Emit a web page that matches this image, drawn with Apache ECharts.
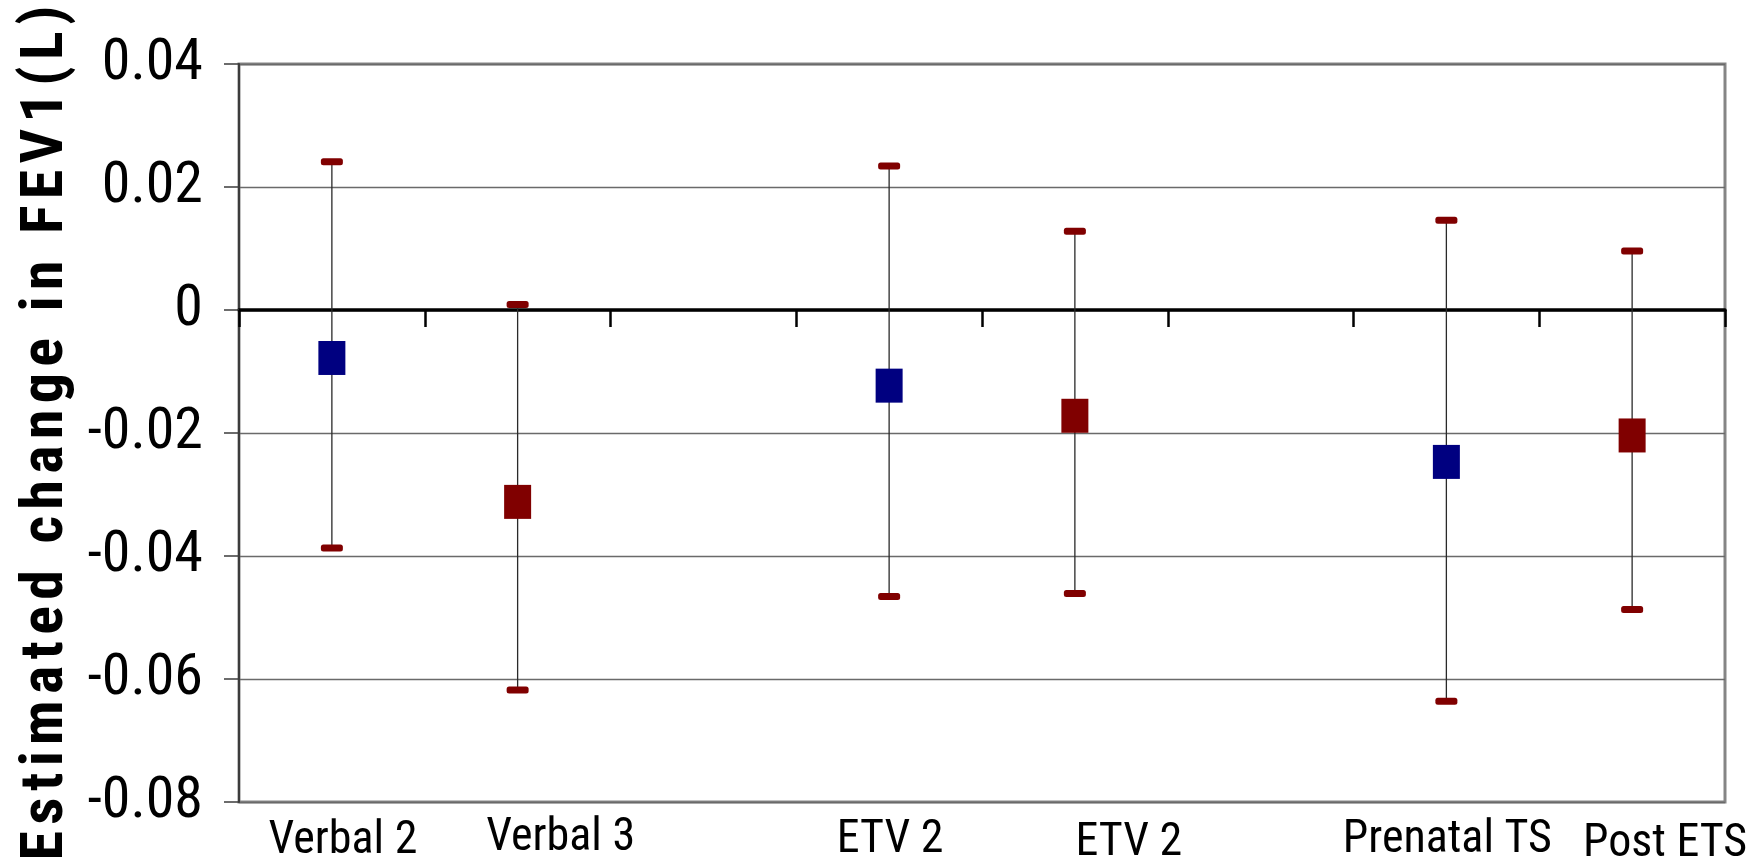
<!DOCTYPE html>
<html>
<head>
<meta charset="utf-8">
<title>Estimated change in FEV1</title>
<script src="https://cdn.jsdelivr.net/npm/echarts@6/dist/echarts.min.js"></script>
<style>
  html, body { margin: 0; padding: 0; background: #ffffff; }
  #chart { width: 1762px; height: 867px; }
</style>
</head>
<body>
<div id="chart"></div>
<script>
// Exposure categories (empty slots separate the three groups)
const categories = ['Verbal 2', 'Verbal 3', '', 'ETV 2', 'ETV 2', '', 'Prenatal TS', 'Post ETS'];

// Point estimates, split by marker colour
const blueEstimates = [-0.0078, null, null, -0.0123, null, null, -0.0247, null];
const redEstimates  = [null, -0.0312, null, null, -0.0172, null, null, -0.0204];

// Confidence interval bounds
const lowerBounds = [-0.0387, -0.0618, null, -0.0466, -0.0461, null, -0.0636, -0.0487];
const upperBounds = [0.0241, 0.0009, null, 0.0234, 0.0128, null, 0.0146, 0.0096];

// Value axis ticks
const yTicks = [-0.08, -0.06, -0.04, -0.02, 0, 0.02, 0.04];

const yTitle = 'Estimated change in FEV1(L)';

const NARROW = '"Roboto Condensed", "DejaVu Sans Condensed", sans-serif';

// letter-spaced axis title
const spacedTitle = yTitle.split(' ')
  .map(w => w.split('').join('\u200A'))
  .join('\u200A \u200A');

const intervals = categories
  .map((c, i) => (upperBounds[i] == null ? null : [i, lowerBounds[i], upperBounds[i]]))
  .filter(d => d !== null);

// individual label nudges: [top, left] padding for each category label
const labelNudge = [[6, 22], [1, 86], [0, 0], [5, 2], [11, 108], [0, 0], [5, 2], [12, 66]];
const rich = {};
labelNudge.forEach((p, i) => {
  rich['c' + i] = {
    fontFamily: NARROW, fontSize: 46, color: '#000', lineHeight: 46,
    padding: [p[0], 0, 0, p[1]]
  };
});

function renderWhisker(params, api) {
  const x = api.value(0);
  const top = api.coord([x, api.value(2)]);
  const bot = api.coord([x, api.value(1)]);
  const capW = 22, capH = 7;
  return {
    type: 'group',
    children: [
      { type: 'line', shape: { x1: top[0], y1: top[1], x2: bot[0], y2: bot[1] },
        style: { stroke: '#2a2a2a', lineWidth: 1.3 } },
      { type: 'rect', shape: { x: top[0] - capW / 2, y: top[1] - capH / 2, width: capW, height: capH, r: 2.5 },
        style: { fill: '#800000' } },
      { type: 'rect', shape: { x: bot[0] - capW / 2, y: bot[1] - capH / 2, width: capW, height: capH, r: 2.5 },
        style: { fill: '#800000' } }
    ]
  };
}

const chart = echarts.init(document.getElementById('chart'), null, { renderer: 'canvas' });

chart.setOption({
  animation: false,
  backgroundColor: '#ffffff',
  grid: {
    left: 239, right: 37, top: 64, bottom: 65,
    show: true, borderColor: '#858585', borderWidth: 3, backgroundColor: 'transparent'
  },
  xAxis: [
    {
      // zero line with category separators
      type: 'category', data: categories, position: 'bottom',
      axisLine: { show: true, onZero: true, lineStyle: { color: '#000', width: 3.5 } },
      axisTick: { show: true, inside: false, length: 17, interval: 0, lineStyle: { color: '#000', width: 2.5 } },
      axisLabel: { show: false },
      splitLine: { show: false }
    },
    {
      // category labels along the bottom edge
      type: 'category', data: categories, position: 'bottom',
      axisLine: { show: false, onZero: false },
      axisTick: { show: false },
      splitLine: { show: false },
      axisLabel: {
        show: true, interval: 0, margin: 13,
        formatter: (v, i) => (v ? '{c' + i + '|' + v + '}' : ''),
        rich: rich
      }
    }
  ],
  yAxis: {
    type: 'value',
    min: yTicks[0], max: yTicks[yTicks.length - 1], interval: 0.02,
    name: spacedTitle,
    nameLocation: 'middle', nameRotate: 90, nameGap: 144,
    nameTextStyle: { fontFamily: '"Roboto Condensed", "Liberation Sans", sans-serif', fontWeight: 'bold', fontSize: 60, color: '#000' },
    axisLine: { show: true, onZero: false, lineStyle: { color: '#3c3c3c', width: 2 } },
    axisTick: { show: true, inside: false, length: 15, lineStyle: { color: '#3c3c3c', width: 1.5 } },
    axisLabel: {
      margin: 36, fontFamily: NARROW, fontSize: 58, color: '#000',
      padding: [6, 0, 0, 0],
      formatter: v => (Math.abs(v) < 1e-9 ? '0' : v.toFixed(2))
    },
    splitLine: { show: true, lineStyle: { color: '#6a6a6a', width: 1.3 } }
  },
  series: [
    {
      type: 'custom', name: 'interval', xAxisIndex: 0, z: 2,
      renderItem: renderWhisker,
      encode: { x: 0, y: [1, 2] },
      data: intervals
    },
    {
      type: 'scatter', name: 'estimate (blue)', xAxisIndex: 0, z: 3,
      symbol: 'rect', symbolSize: [27, 34],
      itemStyle: { color: '#000080', opacity: 1 },
      data: blueEstimates.map(v => (v == null ? '-' : v))
    },
    {
      type: 'scatter', name: 'estimate (red)', xAxisIndex: 0, z: 3,
      symbol: 'rect', symbolSize: [27, 34],
      itemStyle: { color: '#800000', opacity: 1 },
      data: redEstimates.map(v => (v == null ? '-' : v))
    }
  ]
});
</script>
</body>
</html>
